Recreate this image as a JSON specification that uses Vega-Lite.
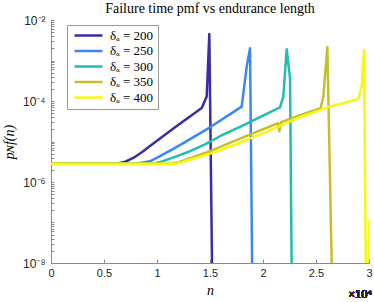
{
  "$schema": "https://vega.github.io/schema/vega-lite/v6.json",
  "width": 318,
  "height": 243,
  "autosize": {"type": "none"},
  "padding": {"left": 51, "top": 20, "right": 5, "bottom": 39},
  "background": "white",
  "title": {"text": "Failure time pmf vs endurance length", "font": "Liberation Serif", "fontSize": 14, "fontWeight": "normal", "color": "#000000", "offset": -2, "anchor": "middle"},
  "config": {"view": {"stroke": null}},
  "data": {"values": [
    {"s": "δₐ = 200", "n": 0, "p": 2.818e-6},
    {"s": "δₐ = 200", "n": 6200, "p": 2.818e-6},
    {"s": "δₐ = 200", "n": 7000, "p": 3.162e-6},
    {"s": "δₐ = 200", "n": 7800, "p": 3.981e-6},
    {"s": "δₐ = 200", "n": 8600, "p": 5.495e-6},
    {"s": "δₐ = 200", "n": 9400, "p": 7.943e-6},
    {"s": "δₐ = 200", "n": 11700, "p": 2.239e-5},
    {"s": "δₐ = 200", "n": 14220, "p": 6.683e-5},
    {"s": "δₐ = 200", "n": 14690, "p": 1.288e-4},
    {"s": "δₐ = 200", "n": 14936, "p": 4.519e-3},
    {"s": "δₐ = 200", "n": 15280, "p": 1e-10},

    {"s": "δₐ = 250", "n": 0, "p": 2.818e-6},
    {"s": "δₐ = 250", "n": 8000, "p": 2.818e-6},
    {"s": "δₐ = 250", "n": 9340, "p": 3.236e-6},
    {"s": "δₐ = 250", "n": 10280, "p": 4.365e-6},
    {"s": "δₐ = 250", "n": 11500, "p": 6.457e-6},
    {"s": "δₐ = 250", "n": 12480, "p": 9.12e-6},
    {"s": "δₐ = 250", "n": 15000, "p": 2.239e-5},
    {"s": "δₐ = 250", "n": 17990, "p": 7.244e-5},
    {"s": "δₐ = 250", "n": 18460, "p": 7.079e-4},
    {"s": "δₐ = 250", "n": 18774, "p": 1.995e-3},
    {"s": "δₐ = 250", "n": 19050, "p": 1e-10},

    {"s": "δₐ = 300", "n": 0, "p": 2.818e-6},
    {"s": "δₐ = 300", "n": 9600, "p": 2.818e-6},
    {"s": "δₐ = 300", "n": 10500, "p": 3.236e-6},
    {"s": "δₐ = 300", "n": 11700, "p": 4.169e-6},
    {"s": "δₐ = 300", "n": 13110, "p": 5.754e-6},
    {"s": "δₐ = 300", "n": 14530, "p": 8.511e-6},
    {"s": "δₐ = 300", "n": 15940, "p": 1.349e-5},
    {"s": "δₐ = 300", "n": 17830, "p": 2.291e-5},
    {"s": "δₐ = 300", "n": 19717, "p": 3.981e-5},
    {"s": "δₐ = 300", "n": 21600, "p": 6.918e-5},
    {"s": "δₐ = 300", "n": 21915, "p": 1.288e-4},
    {"s": "δₐ = 300", "n": 22235, "p": 1.905e-3},
    {"s": "δₐ = 300", "n": 22550, "p": 3.631e-4},
    {"s": "δₐ = 300", "n": 22766, "p": 1e-10},

    {"s": "δₐ = 350", "n": 0, "p": 2.818e-6},
    {"s": "δₐ = 350", "n": 11300, "p": 2.818e-6},
    {"s": "δₐ = 350", "n": 12200, "p": 3.162e-6},
    {"s": "δₐ = 350", "n": 13110, "p": 3.89e-6},
    {"s": "δₐ = 350", "n": 15000, "p": 5.754e-6},
    {"s": "δₐ = 350", "n": 17830, "p": 1.175e-5},
    {"s": "δₐ = 350", "n": 21400, "p": 2.818e-5},
    {"s": "δₐ = 350", "n": 21550, "p": 1.778e-5},
    {"s": "δₐ = 350", "n": 21700, "p": 3.02e-5},
    {"s": "δₐ = 350", "n": 23490, "p": 4.467e-5},
    {"s": "δₐ = 350", "n": 25440, "p": 6.683e-5},
    {"s": "δₐ = 350", "n": 25690, "p": 1.288e-4},
    {"s": "δₐ = 350", "n": 26070, "p": 2.138e-3},
    {"s": "δₐ = 350", "n": 26634, "p": 1e-10},

    {"s": "δₐ = 400", "n": 0, "p": 2.818e-6},
    {"s": "δₐ = 400", "n": 11700, "p": 2.818e-6},
    {"s": "δₐ = 400", "n": 12500, "p": 3.162e-6},
    {"s": "δₐ = 400", "n": 13110, "p": 3.548e-6},
    {"s": "δₐ = 400", "n": 15000, "p": 5.012e-6},
    {"s": "δₐ = 400", "n": 17830, "p": 9.333e-6},
    {"s": "δₐ = 400", "n": 21400, "p": 2.291e-5},
    {"s": "δₐ = 400", "n": 23490, "p": 3.981e-5},
    {"s": "δₐ = 400", "n": 25440, "p": 6.026e-5},
    {"s": "δₐ = 400", "n": 26320, "p": 7.244e-5},
    {"s": "δₐ = 400", "n": 28990, "p": 1.122e-4},
    {"s": "δₐ = 400", "n": 29310, "p": 2.291e-4},
    {"s": "δₐ = 400", "n": 29530, "p": 1.82e-3},
    {"s": "δₐ = 400", "n": 29750, "p": 1e-10},
    {"s": "δₐ = 400", "n": 29850, "p": 1e-10},
    {"s": "δₐ = 400", "n": 30000, "p": 1.072e-7},
    {"s": "δₐ = 400", "n": 30150, "p": 1e-10}
  ]},
  "layer": [
    {
      "mark": {"type": "line", "strokeWidth": 2.5, "clip": true, "strokeJoin": "round"},
      "encoding": {
        "x": {"field": "n", "type": "quantitative",
          "scale": {"domain": [0, 30000], "nice": false, "zero": false},
          "axis": {"values": [0, 5000, 10000, 15000, 20000, 25000, 30000],
            "labelExpr": "datum.value / 10000",
            "title": "n", "titleFont": "Liberation Serif", "titleFontStyle": "italic", "titleFontWeight": "normal", "titleFontSize": 14, "titleColor": "#000", "titlePadding": 5,
            "labelFont": "Liberation Sans", "labelFontSize": 11, "labelColor": "#262626", "labelPadding": 8,
            "domainColor": "#8a8a8a", "tickColor": "#8a8a8a", "tickSize": -4, "grid": false, "labelFlush": false}},
        "y": {"field": "p", "type": "quantitative",
          "scale": {"type": "log", "domain": [1e-8, 0.01], "nice": false},
          "axis": {"values": [1e-8, 2e-8, 3e-8, 4e-8, 5e-8, 6e-8, 7e-8, 8e-8, 9e-8, 1e-7, 2e-7, 3e-7, 4e-7, 5e-7, 6e-7, 7e-7, 8e-7, 9e-7, 0.000001, 0.000002, 0.000003, 0.000004, 0.000005, 0.000006, 0.000007, 0.000008, 0.000009, 0.00001, 0.00002, 0.00003, 0.00004, 0.00005, 0.00006, 0.00007, 0.00008, 0.00009, 0.0001, 0.0002, 0.0003, 0.0004, 0.0005, 0.0006, 0.0007, 0.0008, 0.0009, 0.001, 0.002, 0.003, 0.004, 0.005, 0.006, 0.007, 0.008, 0.009, 0.01],
            "labelExpr": "datum.value == 0.01 ? '10⁻²' : datum.value == 0.0001 ? '10⁻⁴' : datum.value == 0.000001 ? '10⁻⁶' : datum.value == 1e-8 ? '10⁻⁸' : ''",
            "title": "pɴf(n)", "titleFont": "Liberation Serif", "titleFontStyle": "italic", "titleFontWeight": "normal", "titleFontSize": 14, "titleColor": "#000", "titlePadding": 6,
            "labelFont": "Liberation Sans", "labelFontSize": 12, "labelColor": "#262626", "labelPadding": 9,
            "domainColor": "#8a8a8a", "tickColor": "#8a8a8a", "tickSize": -3, "grid": false, "labelOverlap": false}},
        "color": {"field": "s", "type": "nominal",
          "scale": {"domain": ["δₐ = 200", "δₐ = 250", "δₐ = 300", "δₐ = 350", "δₐ = 400"], "range": ["#3b2ca8", "#3a87f5", "#20bdb3", "#c9bd2c", "#f7f70f"]},
          "legend": {"orient": "none", "legendX": 16, "legendY": 5, "title": null, "symbolType": "M-4,0H4", "symbolSize": 49, "symbolStrokeWidth": 2.5, "symbolOffset": 11,
            "labelFont": "Liberation Serif", "labelFontSize": 13, "labelColor": "#000", "strokeColor": "#9a9a9a", "fillColor": "white", "padding": 4, "rowPadding": 1.5, "labelOffset": 15, "symbolOpacity": 1}}
      }
    },
    {
      "mark": {"type": "text", "text": "×10⁴", "align": "right", "baseline": "middle", "dx": 3, "dy": 32, "font": "Liberation Sans", "fontSize": 11, "color": "#262626", "clip": false},
      "encoding": {"x": {"datum": 30000}, "y": {"datum": 1e-8}}
    }
  ]
}
